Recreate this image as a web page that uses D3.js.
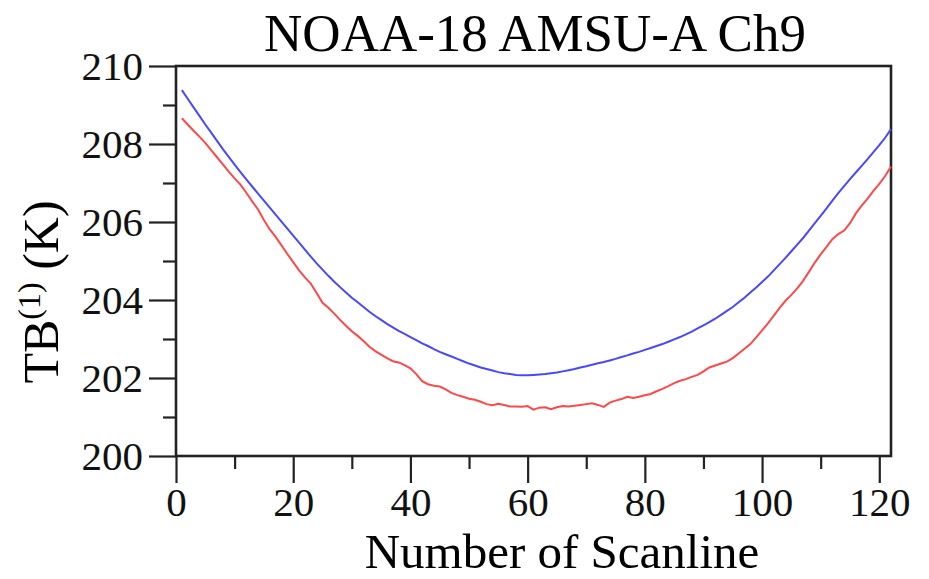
<!DOCTYPE html>
<html>
<head>
<meta charset="utf-8">
<script src="https://cdn.jsdelivr.net/npm/d3@7"></script>
<style>
  body { margin: 0; background: #fff; }
  svg { display: block; font-family: "Liberation Serif", "Times New Roman", serif; }
  .axis path, .axis line { stroke: #222; }
  .axis text { font-family: "Liberation Serif", serif; font-size: 41px; fill: #111; }
</style>
</head>
<body>
<svg width="929" height="579"></svg>
<script>
// scanline numbers and brightness temperatures
var scanlines = d3.range(1, 123);

var blueTB = [
  209.38, 209.16, 208.94, 208.72, 208.50, 208.29, 208.08, 207.87, 207.67, 207.47,
  207.28, 207.09, 206.91, 206.73, 206.55, 206.37, 206.19, 206.01, 205.83, 205.65,
  205.47, 205.29, 205.11, 204.94, 204.78, 204.62, 204.47, 204.33, 204.19, 204.06,
  203.94, 203.82, 203.70, 203.59, 203.49, 203.39, 203.30, 203.21, 203.13, 203.05,
  202.97, 202.89, 202.82, 202.74, 202.67, 202.61, 202.55, 202.49, 202.43, 202.37,
  202.32, 202.27, 202.23, 202.19, 202.15, 202.12, 202.10, 202.08, 202.07, 202.07,
  202.08, 202.09, 202.10, 202.12, 202.14, 202.17, 202.20, 202.23, 202.27, 202.30,
  202.34, 202.38, 202.41, 202.45, 202.49, 202.54, 202.58, 202.63, 202.67, 202.72,
  202.77, 202.82, 202.87, 202.93, 202.99, 203.05, 203.12, 203.19, 203.27, 203.35,
  203.43, 203.52, 203.62, 203.72, 203.82, 203.94, 204.06, 204.19, 204.32, 204.46,
  204.60, 204.76, 204.92, 205.08, 205.25, 205.42, 205.59, 205.78, 205.97, 206.16,
  206.35, 206.55, 206.74, 206.92, 207.10, 207.27, 207.44, 207.61, 207.79, 207.97,
  208.16, 208.38
];

var redTB = [
  208.66, 208.50, 208.34, 208.19, 208.03, 207.84, 207.66, 207.48, 207.29, 207.12,
  206.96, 206.75, 206.53, 206.32, 206.05, 205.81, 205.62, 205.40, 205.18, 204.97,
  204.76, 204.58, 204.42, 204.18, 203.93, 203.80, 203.65, 203.49, 203.34, 203.20,
  203.08, 202.95, 202.80, 202.69, 202.60, 202.51, 202.43, 202.40, 202.33, 202.25,
  202.10, 201.92, 201.84, 201.80, 201.78, 201.71, 201.62, 201.56, 201.52, 201.47,
  201.44, 201.39, 201.33, 201.30, 201.34, 201.31, 201.27, 201.27, 201.26, 201.28,
  201.19, 201.24, 201.25, 201.20, 201.25, 201.28, 201.27, 201.29, 201.31, 201.33,
  201.35, 201.31, 201.26, 201.37, 201.42, 201.46, 201.52, 201.49, 201.52, 201.56,
  201.59, 201.66, 201.72, 201.79, 201.87, 201.93, 201.97, 202.03, 202.08, 202.17,
  202.27, 202.32, 202.37, 202.42, 202.51, 202.63, 202.75, 202.87, 203.04, 203.22,
  203.40, 203.60, 203.80, 203.98, 204.13, 204.30, 204.49, 204.72, 204.96, 205.17,
  205.36, 205.56, 205.69, 205.78, 205.97, 206.22, 206.42, 206.60, 206.80, 206.98,
  207.18, 207.42
];

var xMajorTicks = [0, 20, 40, 60, 80, 100, 120];
var xMinorTicks = [10, 30, 50, 70, 90, 110];
var yMajorTicks = [200, 202, 204, 206, 208, 210];
var yMinorTicks = [201, 203, 205, 207, 209];

var svg = d3.select("svg");
var margin = {left: 176, right: 38, top: 66, bottom: 123};
var width = 929 - margin.left - margin.right,
    height = 579 - margin.top - margin.bottom;

var x = d3.scaleLinear().domain([0, 122]).range([0, width]);
var y = d3.scaleLinear().domain([200, 210]).range([height, 0]);

var g = svg.append("g").attr("transform", "translate(" + margin.left + "," + margin.top + ")");

// minor ticks first, no labels
g.append("g")
  .attr("class", "axis")
  .attr("transform", "translate(0," + height + ")")
  .call(d3.axisBottom(x).tickValues(xMinorTicks).tickSize(13).tickFormat(""))
  .call(function(s) { s.select(".domain").remove(); s.selectAll("line").attr("stroke-width", 2.2); });
g.append("g")
  .attr("class", "axis")
  .call(d3.axisLeft(y).tickValues(yMinorTicks).tickSize(13).tickFormat(""))
  .call(function(s) { s.select(".domain").remove(); s.selectAll("line").attr("stroke-width", 2.2); });

var xAxis = g.append("g")
  .attr("class", "axis")
  .attr("transform", "translate(0," + height + ")")
  .call(d3.axisBottom(x).tickValues(xMajorTicks).tickSize(27).tickPadding(4).tickFormat(d3.format("d")));
xAxis.select(".domain").remove();
xAxis.selectAll("line").attr("stroke-width", 2.2);

var yAxis = g.append("g")
  .attr("class", "axis")
  .call(d3.axisLeft(y).tickValues(yMajorTicks).tickSize(27).tickPadding(6).tickFormat(d3.format("d")));
yAxis.select(".domain").remove();
yAxis.selectAll("line").attr("stroke-width", 2.2);

// frame
g.append("rect")
  .attr("width", width)
  .attr("height", height)
  .attr("fill", "none")
  .attr("stroke", "#222")
  .attr("stroke-width", 2.6);

var line = d3.line()
  .x(function(d) { return x(d[0]); })
  .y(function(d) { return y(d[1]); });

g.append("path")
  .datum(d3.zip(scanlines, redTB))
  .attr("fill", "none")
  .attr("stroke", "#ff4848")
  .attr("stroke-width", 2)
  .attr("d", line);

g.append("path")
  .datum(d3.zip(scanlines, blueTB))
  .attr("fill", "none")
  .attr("stroke", "#4848ff")
  .attr("stroke-width", 2)
  .attr("d", line);

svg.append("text")
  .attr("x", 535)
  .attr("y", 51)
  .attr("text-anchor", "middle")
  .attr("font-size", 53)
  .text("NOAA-18 AMSU-A Ch9");

svg.append("text")
  .attr("x", 562)
  .attr("y", 568)
  .attr("text-anchor", "middle")
  .attr("font-size", 49)
  .text("Number of Scanline");

var yl = svg.append("text")
  .attr("transform", "translate(58,292) rotate(-90)")
  .attr("text-anchor", "middle")
  .attr("font-size", 50);
yl.append("tspan").text("TB");
yl.append("tspan").attr("font-size", 32).attr("dy", -18).text("(1)");
yl.append("tspan").attr("dy", 18).text(" (K)");
</script>
</body>
</html>
